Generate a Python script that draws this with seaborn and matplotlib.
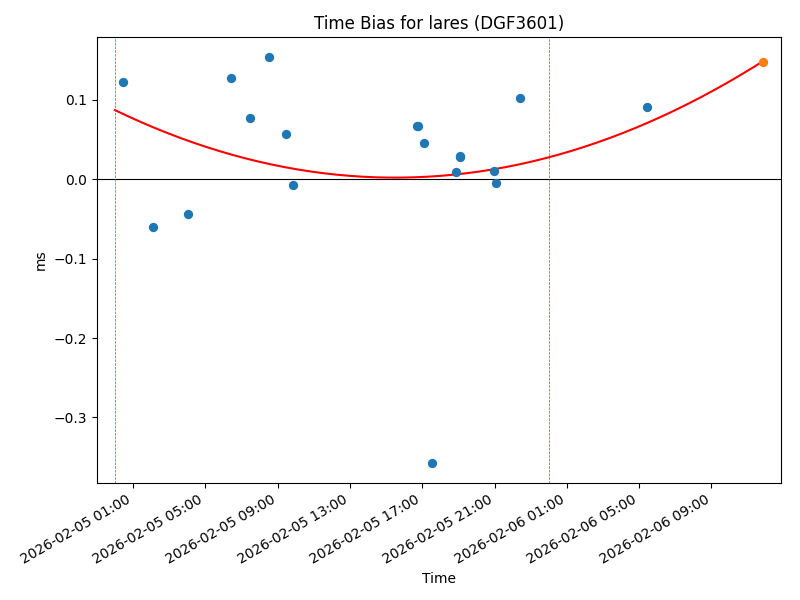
import numpy as np
import pandas as pd
import matplotlib
matplotlib.use("Agg")
import matplotlib.pyplot as plt
import matplotlib.dates as mdates
import seaborn as sns

# observed time bias per pass (ms)
times = [
    "2026-02-05 00:27", "2026-02-05 02:07", "2026-02-05 04:03", "2026-02-05 06:25",
    "2026-02-05 07:28", "2026-02-05 08:31", "2026-02-05 09:27", "2026-02-05 09:52",
    "2026-02-05 16:41", "2026-02-05 16:47", "2026-02-05 17:06", "2026-02-05 17:32",
    "2026-02-05 18:52", "2026-02-05 19:04", "2026-02-05 19:07", "2026-02-05 20:58",
    "2026-02-05 21:05", "2026-02-05 22:23", "2026-02-06 05:26",
]
bias = [
    0.1228, -0.0597, -0.0436, 0.1270,
    0.0775, 0.1533, 0.0571, -0.0068,
    0.0669, 0.0669, 0.0457, -0.3570,
    0.0089, 0.0275, 0.0290, 0.0102,
    -0.0051, 0.1025, 0.0910,
]

# latest point (highlighted)
last_time = "2026-02-06 11:50"
last_bias = 0.148

# quadratic fit: hours since fit start -> ms
fit_start = "2026-02-05 00:00"
fit_coef = [0.000354, -0.010974, 0.087048]

# day boundaries
day_marks = ["2026-02-05 00:00", "2026-02-06 00:00"]

df = pd.DataFrame({"Time": pd.to_datetime(times), "ms": bias})

t0 = pd.Timestamp(fit_start)
t1 = pd.Timestamp(last_time)
fit_t = pd.date_range(t0, t1, periods=200)
fit_h = (fit_t - t0) / pd.Timedelta(hours=1)
fit_v = np.polyval(fit_coef, fit_h)

fig, ax = plt.subplots(figsize=(8, 6), dpi=100)
sns.scatterplot(data=df, x="Time", y="ms", color="C0", s=45, linewidth=0, ax=ax, zorder=3)
sns.scatterplot(x=[pd.Timestamp(last_time)], y=[last_bias], color="C1", s=45, linewidth=0, ax=ax, zorder=4)
sns.lineplot(x=fit_t, y=fit_v, color="red", linewidth=1.5, ax=ax, zorder=2)

ax.axhline(0, color="black", linewidth=0.8)
for d in day_marks:
    ax.axvline(pd.Timestamp(d), color="#1f77b4", linestyle="--", linewidth=0.5)

ax.set_xlim(pd.Timestamp("2026-02-04 23:00"), pd.Timestamp("2026-02-06 12:50"))
ax.xaxis.set_major_locator(mdates.HourLocator(byhour=[1, 5, 9, 13, 17, 21]))
ax.xaxis.set_major_formatter(mdates.DateFormatter("%Y-%m-%d %H:%M"))
plt.setp(ax.get_xticklabels(), rotation=30, ha="right")

ax.set_title("Time Bias for lares (DGF3601)")
ax.set_xlabel("Time")
ax.set_ylabel("ms")

fig.subplots_adjust(left=0.121, right=0.976, top=0.938, bottom=0.195)
fig.savefig("out.png", dpi=100)
